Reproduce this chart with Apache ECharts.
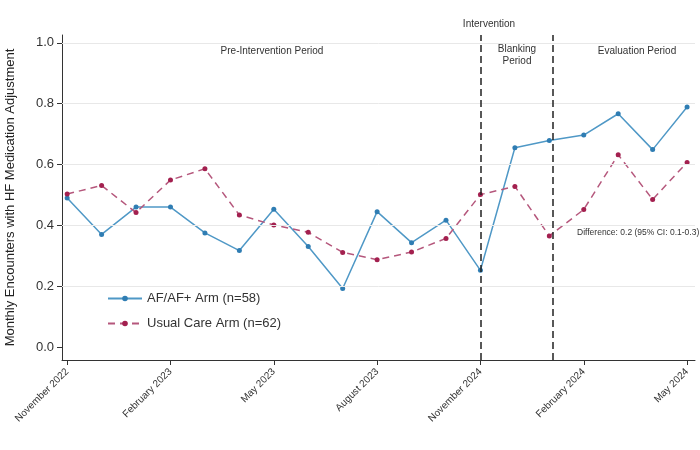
<!DOCTYPE html>
<html>
<head>
<meta charset="utf-8">
<script src="https://cdn.jsdelivr.net/npm/echarts@6/dist/echarts.min.js"></script>
<style>html,body{margin:0;padding:0;background:#fff}#c{width:700px;height:450px}</style>
</head>
<body>
<div id="c"></div>
<script>
var monthIndex = [0,1,2,3,4,5,6,7,8,9,10,11,12,13,14,15,16,17,18];
var tickPositions = [0,3,6,9,12,15,18];
var tickLabels = ["November 2022","February 2023","May 2023","August 2023","November 2024","February 2024","May 2024"];
var yTicks = [0,0.2,0.4,0.6,0.8,1.0];
var afArm = [0.49,0.37,0.46,0.46,0.375,0.317,0.453,0.33,0.192,0.445,0.343,0.417,0.252,0.655,0.679,0.697,0.767,0.649,0.789];
var usualCare = [0.503,0.531,0.442,0.549,0.586,0.434,0.401,0.377,0.311,0.287,0.312,0.357,0.501,0.528,0.365,0.452,0.632,0.485,0.607];
var phaseLines = [12,14.1];
var seriesNames = ["AF/AF+ Arm (n=58)","Usual Care Arm (n=62)"];

var FONT = "Liberation Sans, Arial, sans-serif";
function pairs(v){ return v.map(function(y,i){ return [monthIndex[i], y]; }); }

var chart = echarts.init(document.getElementById('c'), null, {renderer:'canvas'});
chart.setOption({
  animation:false,
  backgroundColor:'#fff',
  textStyle:{fontFamily:FONT},
  grid:{left:62,right:5,top:35,bottom:90,outerBoundsMode:'none',containLabel:false},
  xAxis:{
    type:'value', min:-0.15, max:18.23,
    axisLine:{onZero:false,lineStyle:{color:'#333',width:1}},
    axisTick:{customValues:tickPositions,length:5,lineStyle:{color:'#333'}},
    axisLabel:{customValues:tickPositions,rotate:45,fontSize:10,color:'#333',fontFamily:FONT,margin:10,
      formatter:function(v){ var k=tickPositions.indexOf(Math.round(v)); return k>=0?tickLabels[k]:''; }},
    splitLine:{show:false}
  },
  yAxis:{
    type:'value', min:-0.043, max:1.026,
    name:'Monthly Encounters with HF Medication Adjustment',
    nameLocation:'middle', nameGap:45,
    nameTextStyle:{fontSize:13,color:'#222',fontFamily:FONT},
    axisLine:{show:true,onZero:false,lineStyle:{color:'#333',width:1}},
    axisTick:{show:true,customValues:yTicks,length:5,lineStyle:{color:'#333'}},
    axisLabel:{customValues:yTicks,fontSize:13,color:'#333',fontFamily:FONT,margin:8,
      formatter:function(v){return v.toFixed(1);}},
    splitLine:{show:false}
  },
  legend:{
    orient:'vertical', left:102, top:287, itemGap:12, itemWidth:34, itemHeight:7,
    textStyle:{fontSize:13,color:'#333',fontFamily:FONT},
    data:seriesNames
  },
  series:[
    {
      name:seriesNames[0], type:'line', data:pairs(afArm),
      symbol:'circle', symbolSize:5, z:3,
      lineStyle:{color:'#4f98c6',width:1.5},
      itemStyle:{color:'#2f7db3'},
      markLine:{silent:true,symbol:'none',animation:false,
        label:{show:false},
        lineStyle:{color:'#e8e8e8',width:1,type:'solid'},
        data:yTicks.slice(1).map(function(v){return {yAxis:v};})}
    },
    {
      name:seriesNames[1], type:'line', data:pairs(usualCare),
      symbol:'circle', symbolSize:5, z:3,
      lineStyle:{color:'#b5577c',width:1.5,type:[7,5]},
      itemStyle:{color:'#a3204f'},
      markLine:{silent:true,symbol:'none',animation:false,
        label:{show:false},
        lineStyle:{color:'#222',width:1.5,type:[7,4]},
        data:phaseLines.map(function(v){return {xAxis:v};})}
    }
  ],
  graphic:[
    {type:'text',x:272,y:46,style:{text:'Pre-Intervention Period',font:'10px '+FONT,fill:'#333',align:'center'}},
    {type:'text',x:489,y:19,style:{text:'Intervention',font:'10px '+FONT,fill:'#333',align:'center'}},
    {type:'text',x:517,y:43,style:{text:'Blanking\nPeriod',font:'10px '+FONT,fill:'#333',align:'center',lineHeight:12}},
    {type:'text',x:637,y:46,style:{text:'Evaluation Period',font:'10px '+FONT,fill:'#333',align:'center'}},
    {type:'text',x:577,y:228,style:{text:'Difference: 0.2 (95% CI: 0.1-0.3)',font:'8.5px '+FONT,fill:'#333'}}
  ]
});
</script>
</body>
</html>
